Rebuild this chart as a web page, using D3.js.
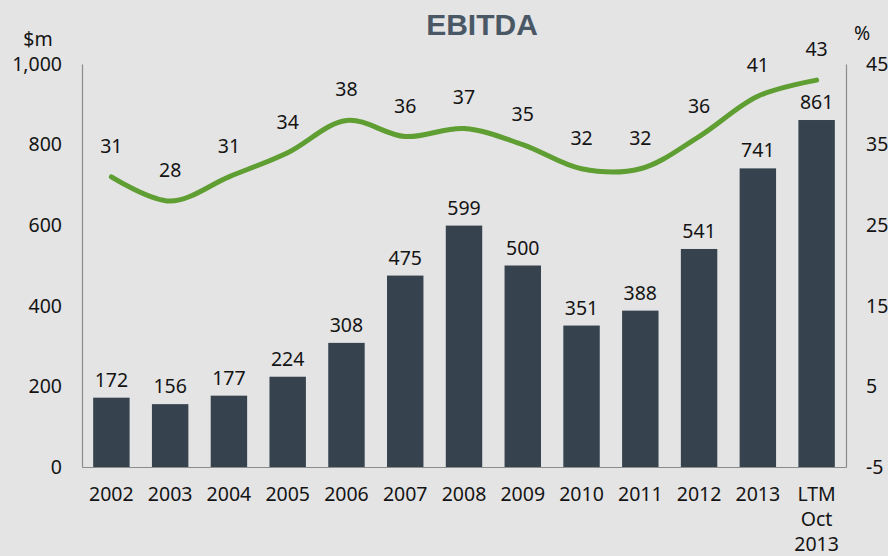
<!DOCTYPE html>
<html>
<head>
<meta charset="utf-8">
<script src="https://cdn.jsdelivr.net/npm/d3@7"></script>
<style>
  html, body { margin: 0; padding: 0; background: #e4e4e4; }
  svg { display: block; }
  text { font-family: "Noto Sans", "Open Sans", sans-serif; fill: #141414; }
</style>
</head>
<body>
<svg id="chart" width="888" height="556"></svg>
<script>
// EBITDA in $m (bars) and EBITDA margin in % (line)
const categories = ["2002", "2003", "2004", "2005", "2006", "2007", "2008", "2009", "2010", "2011", "2012", "2013", "LTM\nOct\n2013"];
const ebitda = [172, 156, 177, 224, 308, 475, 599, 500, 351, 388, 541, 741, 861];
const margin = [31, 28, 31, 34, 38, 36, 37, 35, 32, 32, 36, 41, 43];
const leftTicks = [0, 200, 400, 600, 800, 1000];
const rightTicks = [-5, 5, 15, 25, 35, 45];

const svg = d3.select("#chart");
const plot = { left: 82, right: 846, top: 64, bottom: 467 };

const x = d3.scaleBand()
  .domain(categories)
  .range([plot.left, plot.right])
  .paddingInner(0.38)
  .paddingOuter(0.19);

const yLeft = d3.scaleLinear().domain([0, 1000]).range([plot.bottom, plot.top]);
const yRight = d3.scaleLinear().domain([-5, 45]).range([plot.bottom, plot.top]);

const fontSize = 19.5;
const axisColor = "#8c8c8c";

// Title
svg.append("text")
  .attr("x", 482).attr("y", 35)
  .attr("text-anchor", "middle")
  .style("font-family", "'Liberation Sans', Arial, sans-serif")
  .style("font-weight", "bold")
  .style("font-size", "30px")
  .style("fill", "#4a5866")
  .text("EBITDA");

// Unit labels
svg.append("text").attr("x", 38).attr("y", 46).attr("text-anchor", "middle")
  .style("font-size", fontSize + "px").text("$m");
svg.append("text").attr("x", 862).attr("y", 40).attr("text-anchor", "middle")
  .style("font-size", fontSize + "px").text("%");

// Left axis
const gL = svg.append("g")
  .attr("transform", `translate(${plot.left},0)`)
  .call(d3.axisLeft(yLeft).tickValues(leftTicks).tickFormat(d3.format(",")).tickSize(0).tickPadding(20));

// Right axis (plain hyphen for negatives)
const gR = svg.append("g")
  .attr("transform", `translate(${plot.right},0)`)
  .call(d3.axisRight(yRight).tickValues(rightTicks).tickFormat(d => String(d)).tickSize(0).tickPadding(20));

[gL, gR].forEach(g => {
  g.select(".domain").attr("stroke", axisColor).attr("stroke-width", 1.2);
  g.selectAll("text").style("font-size", fontSize + "px").style("font-family", "'Noto Sans', 'Open Sans', sans-serif").attr("fill", "#141414");
});

// Bars
svg.append("g").selectAll("rect")
  .data(ebitda)
  .join("rect")
  .attr("x", (d, i) => x(categories[i]))
  .attr("width", x.bandwidth())
  .attr("y", d => yLeft(d))
  .attr("height", d => yLeft(0) - yLeft(d))
  .attr("fill", "#36434e");

// Bottom axis line
svg.append("g")
  .attr("transform", `translate(0,${plot.bottom})`)
  .call(d3.axisBottom(x).tickSize(0).tickFormat(""))
  .select(".domain").attr("stroke", axisColor).attr("stroke-width", 1.2);

// Category labels (multi-line)
svg.append("g").selectAll("text")
  .data(categories)
  .join("text")
  .attr("text-anchor", "middle")
  .style("font-size", fontSize + "px")
  .each(function (d) {
    const t = d3.select(this);
    d.split("\n").forEach((line, k) => {
      t.append("tspan")
        .attr("x", x(d) + x.bandwidth() / 2)
        .attr("y", plot.bottom + 34 + k * 25)
        .text(line);
    });
  });

// Bar value labels
svg.append("g").selectAll("text")
  .data(ebitda)
  .join("text")
  .attr("text-anchor", "middle")
  .attr("x", (d, i) => x(categories[i]) + x.bandwidth() / 2)
  .attr("y", d => yLeft(d) - 11)
  .style("font-size", fontSize + "px")
  .text(d => d);

// Margin line
const line = d3.line()
  .x((d, i) => x(categories[i]) + x.bandwidth() / 2)
  .y(d => yRight(d))
  .curve(d3.curveCatmullRom.alpha(0.5));

svg.append("path")
  .datum(margin)
  .attr("d", line)
  .attr("fill", "none")
  .attr("stroke", "#5f9e32")
  .attr("stroke-width", 5)
  .attr("stroke-linecap", "round");

// Margin labels
svg.append("g").selectAll("text")
  .data(margin)
  .join("text")
  .attr("text-anchor", "middle")
  .attr("x", (d, i) => x(categories[i]) + x.bandwidth() / 2)
  .attr("y", d => yRight(d) - 24)
  .style("font-size", fontSize + "px")
  .text(d => d);
</script>
</body>
</html>
